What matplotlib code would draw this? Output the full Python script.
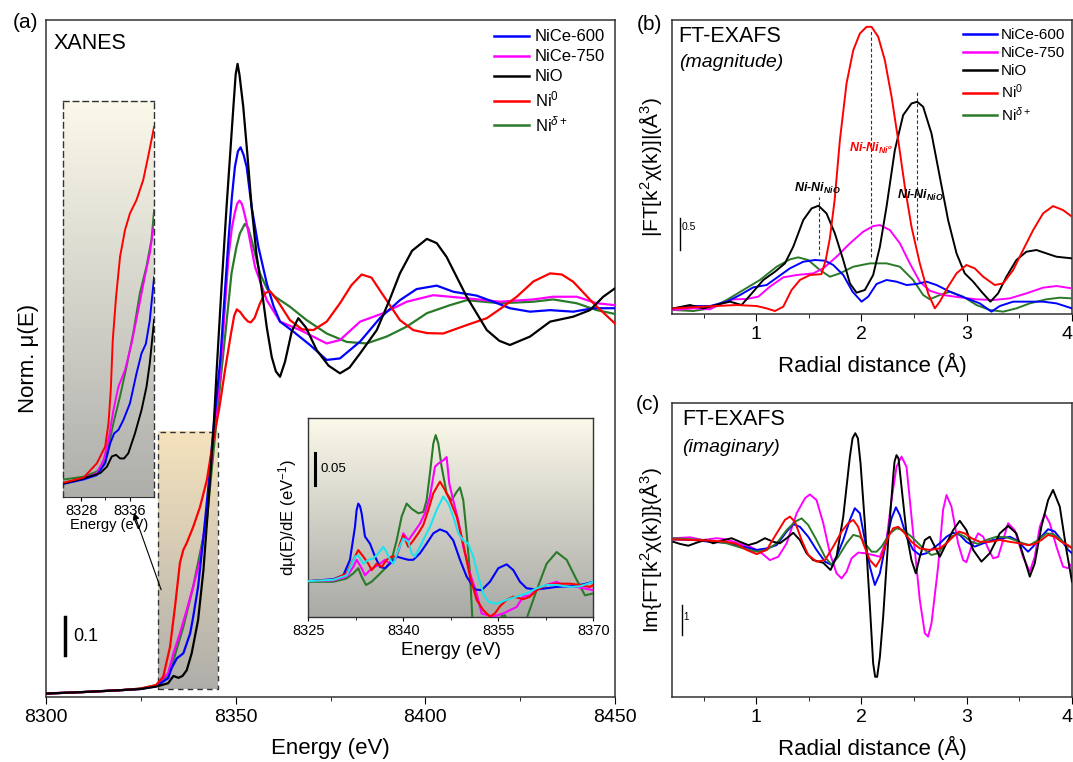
import numpy as np
import matplotlib
matplotlib.use('Agg')
import matplotlib.pyplot as plt
from matplotlib.colors import LinearSegmentedColormap
from matplotlib.lines import Line2D
from matplotlib.patches import Rectangle

plt.rcParams['font.family'] = ['Liberation Sans', 'DejaVu Sans']
plt.rcParams['mathtext.fontset'] = 'custom'
plt.rcParams['mathtext.rm'] = 'Liberation Sans'
plt.rcParams['mathtext.it'] = 'Liberation Sans:italic'
plt.rcParams['mathtext.bf'] = 'Liberation Sans:bold'
plt.rcParams['mathtext.bfit'] = 'Liberation Sans:bold:italic'

# ---------------- (a) XANES, normalised mu(E) ----------------
red_E = [8300, 8310, 8320, 8325, 8329, 8330.9, 8332.7, 8334.0, 8335.3, 8336.2, 8337.1, 8338.8, 8340.6, 8342.4,
         8344.1, 8345.7, 8347.2, 8348.7, 8349.6, 8350.3, 8351.2, 8352.3, 8353.3, 8354.0, 8355.0, 8356.3, 8357.7,
         8359.0, 8361.0, 8364.3, 8367.5, 8370.5, 8374.0, 8377.5, 8380.5, 8383.2, 8385.8, 8388.0, 8393.3, 8396.8,
         8400.5, 8404.7, 8410.9, 8416.2, 8420.0, 8424.1, 8428.5, 8432.9, 8436.0, 8439.0, 8444.3, 8450]
red_v = [0.004, 0.008, 0.013, 0.017, 0.026, 0.048, 0.126, 0.23, 0.345, 0.379, 0.397, 0.439, 0.491, 0.561,
         0.666, 0.75, 0.849, 0.94, 0.99, 1.007, 1.0, 0.985, 0.975, 0.973, 0.985, 1.02, 1.049,
         1.055, 1.03, 0.979, 0.955, 0.953, 0.975, 1.023, 1.07, 1.098, 1.09, 1.057, 0.979, 0.953,
         0.945, 0.944, 0.966, 0.984, 1.01, 1.040, 1.08, 1.101, 1.098, 1.079, 1.023, 0.97]

blk_E = [8300, 8310, 8320, 8325, 8329, 8332.2, 8333.6, 8334.9, 8336.0, 8337.1, 8338.4, 8340.1, 8341.5, 8342.8,
         8344.1, 8345.0, 8346.3, 8347.6, 8348.6, 8349.4, 8350.0, 8350.5, 8351.0, 8352.0, 8353.1, 8354.2, 8355.5,
         8356.9, 8358.2, 8359.5, 8360.6, 8361.7, 8363.0, 8364.8, 8366.5, 8368.5, 8371.4, 8374.5, 8377.5, 8380.0,
         8382.8, 8387.2, 8390.5, 8393.3, 8396.5, 8400.4, 8403.0, 8405.6, 8410.9, 8416.2, 8419.5, 8422.3, 8427.6,
         8432.9, 8439.0, 8443.4, 8446.9, 8450]
blk_v = [0.004, 0.008, 0.013, 0.016, 0.022, 0.031, 0.050, 0.045, 0.050, 0.065, 0.109, 0.196, 0.326, 0.5,
         0.683, 0.849, 1.07, 1.275, 1.42, 1.536, 1.62, 1.648, 1.62, 1.536, 1.41, 1.275, 1.15,
         1.057, 0.96, 0.883, 0.845, 0.831, 0.87, 0.95, 0.984, 0.96, 0.90, 0.86, 0.840, 0.855,
         0.892, 0.953, 1.03, 1.101, 1.16, 1.191, 1.18, 1.144, 1.040, 0.953, 0.925, 0.914, 0.936,
         0.975, 0.988, 1.005, 1.040, 1.062]

blu_E = [8300, 8310, 8320, 8325, 8329, 8332.2, 8333.1, 8334.5, 8336.2, 8338.0, 8338.8, 8340.1, 8341.5, 8342.8,
         8344.1, 8345.9, 8347.0, 8348.1, 8349.0, 8349.8, 8350.6, 8351.3, 8352.1, 8352.9, 8354.2, 8356.0, 8358.2,
         8360.0, 8361.7, 8365.2, 8369.6, 8374.0, 8377.5, 8382.8, 8388.0, 8393.3, 8397.7, 8403.0, 8407.4, 8413.5,
         8417.9, 8422.3, 8427.6, 8432.9, 8439.0, 8444.3, 8450]
blu_v = [0.004, 0.008, 0.013, 0.016, 0.023, 0.044, 0.07, 0.096, 0.109, 0.161, 0.204, 0.283, 0.413, 0.544,
         0.692, 0.87, 1.03, 1.188, 1.30, 1.379, 1.42, 1.430, 1.41, 1.379, 1.275, 1.170, 1.075,
         1.015, 0.975, 0.949, 0.914, 0.875, 0.879, 0.923, 0.984, 1.031, 1.060, 1.069, 1.053, 1.043,
         1.027, 1.010, 1.001, 1.005, 1.001, 1.010, 1.010]

mag_E = [8300, 8310, 8320, 8325, 8329, 8332.2, 8333.6, 8335.3, 8337.1, 8338.8, 8340.6, 8342.4, 8344.1, 8346.0,
         8348.1, 8349.0, 8349.8, 8350.4, 8351.0, 8351.6, 8352.0, 8352.9, 8355.1, 8358.2, 8361.7, 8367.0, 8374.0,
         8377.5, 8382.8, 8388.9, 8395.1, 8402.1, 8410.9, 8419.7, 8428.5, 8433.7, 8439.9, 8445.2, 8450]
mag_v = [0.004, 0.008, 0.013, 0.016, 0.025, 0.057, 0.109, 0.161, 0.222, 0.283, 0.352, 0.474, 0.666, 0.849,
         1.144, 1.22, 1.26, 1.283, 1.291, 1.283, 1.27, 1.232, 1.118, 1.031, 0.975, 0.953, 0.918,
         0.927, 0.975, 0.997, 1.027, 1.044, 1.036, 1.027, 1.033, 1.040, 1.040, 1.023, 1.018]

grn_E = [8300, 8310, 8320, 8325, 8329, 8332.2, 8333.6, 8336.2, 8338.8, 8340.6, 8342.4, 8344.1, 8346.3, 8348.9,
         8350.2, 8351.1, 8352.4, 8353.3, 8354.2, 8356.4, 8358.3, 8360.4, 8364.3, 8368.7, 8374.0, 8379.3, 8384.5,
         8389.8, 8395.1, 8400.4, 8406.5, 8410.9, 8419.7, 8428.5, 8433.7, 8439.9, 8445.2, 8450]
grn_v = [0.004, 0.008, 0.013, 0.017, 0.026, 0.048, 0.091, 0.178, 0.283, 0.370, 0.457, 0.631, 0.849, 1.101,
         1.17, 1.205, 1.230, 1.22, 1.188, 1.101, 1.06, 1.040, 1.014, 0.979, 0.944, 0.922, 0.918,
         0.936, 0.962, 0.997, 1.018, 1.031, 1.023, 1.027, 1.033, 1.023, 1.005, 0.995]

# ---------------- inset: pre-edge zoom ----------------
i1_red_E = [8325.1, 8328.39, 8330.58, 8331.95, 8332.50, 8332.88, 8333.21, 8333.76, 8334.42, 8335.24, 8336.06,
            8337.16, 8338.26, 8339.08, 8340.07]
i1_red_u = [0.037, 0.050, 0.086, 0.128, 0.187, 0.271, 0.397, 0.506, 0.607, 0.674, 0.716, 0.750, 0.800, 0.859, 0.934]
i1_blk_E = [8325.1, 8328.39, 8331.13, 8332.23, 8333.05, 8333.76, 8334.42, 8335.08, 8335.79, 8336.89, 8337.98,
            8338.81, 8339.35, 8340.07]
i1_blk_u = [0.035, 0.048, 0.061, 0.077, 0.103, 0.107, 0.098, 0.098, 0.111, 0.161, 0.220, 0.279, 0.338, 0.447]
i1_blu_E = [8325.1, 8328.39, 8330.58, 8331.95, 8332.78, 8333.43, 8334.15, 8334.97, 8336.06, 8337.16, 8337.98,
            8338.70, 8339.35, 8340.07]
i1_blu_u = [0.034, 0.045, 0.056, 0.086, 0.136, 0.161, 0.170, 0.195, 0.237, 0.313, 0.363, 0.387, 0.446, 0.555]
i1_mag_E = [8325.1, 8328.39, 8330.58, 8331.68, 8332.50, 8333.32, 8334.15, 8335.24, 8336.34, 8337.44, 8338.53,
            8339.35, 8340.07]
i1_mag_u = [0.035, 0.048, 0.061, 0.094, 0.145, 0.220, 0.279, 0.321, 0.388, 0.472, 0.556, 0.615, 0.691]
i1_grn_E = [8325.1, 8328.39, 8330.58, 8331.68, 8332.50, 8333.32, 8334.42, 8335.52, 8336.61, 8337.71, 8338.81,
            8339.63, 8340.07]
i1_grn_u = [0.045, 0.052, 0.065, 0.086, 0.128, 0.187, 0.255, 0.331, 0.415, 0.515, 0.583, 0.650, 0.724]

# ---------------- inset: first derivative ----------------
d_blu_E = [8325.0, 8328.95, 8330.53, 8331.58, 8332.37, 8332.63, 8332.89, 8333.16, 8333.42, 8333.95, 8334.74,
           8335.53, 8336.32, 8337.11, 8337.89, 8338.95, 8340.0, 8340.79, 8341.58, 8342.63, 8343.68, 8344.74,
           8345.79, 8346.84, 8347.89, 8348.95, 8350.0, 8351.32, 8352.37, 8353.68, 8355.0, 8356.32, 8357.37,
           8358.42, 8359.47, 8361.05, 8362.63, 8364.21, 8366.32, 8368.42, 8370.0]
d_blu = [0, 0.003, 0.009, 0.033, 0.084, 0.110, 0.120, 0.116, 0.105, 0.069, 0.058,
         0.038, 0.022, 0.020, 0.027, 0.038, 0.035, 0.033, 0.033, 0.043, 0.058, 0.074,
         0.080, 0.076, 0.063, 0.033, 0.007, -0.013, -0.014, -0.001, 0.020, 0.026, 0.017,
         -0.001, -0.011, -0.013, -0.011, -0.009, -0.008, -0.005, -0.001]
d_red_E = [8325, 8328.95, 8331.05, 8332.11, 8332.89, 8333.68, 8334.47, 8335.0, 8335.79, 8336.58, 8337.37,
           8338.16, 8338.95, 8339.47, 8340.0, 8340.79, 8341.58, 8342.37, 8343.16, 8343.95, 8344.74, 8345.79,
           8346.58, 8347.37, 8348.42, 8349.47, 8350.53, 8351.58, 8352.63, 8353.68, 8354.47, 8355.26, 8356.32,
           8357.37, 8358.95, 8360.0, 8361.05, 8362.63, 8364.21, 8366.32, 8367.89, 8369.47, 8370.0]
d_red = [0, 0.002, 0.012, 0.033, 0.048, 0.038, 0.027, 0.017, 0.027, 0.022, 0.033,
         0.038, 0.038, 0.058, 0.071, 0.053, 0.063, 0.074, 0.087, 0.110, 0.136, 0.154,
         0.141, 0.125, 0.100, 0.058, 0.007, -0.029, -0.045, -0.055, -0.050, -0.039, -0.029,
         -0.024, -0.028, -0.024, -0.014, -0.006, -0.004, -0.004, -0.006, -0.009, -0.006]
d_mag_E = [8325, 8328.95, 8331.05, 8332.11, 8332.63, 8333.42, 8333.95, 8334.74, 8335.53, 8336.32, 8337.11,
           8337.89, 8338.68, 8339.47, 8340.0, 8340.79, 8341.58, 8342.63, 8343.42, 8344.21, 8345.0, 8345.53,
           8346.32, 8346.84, 8347.26, 8347.89, 8348.68, 8349.47, 8350.53, 8351.58, 8352.37, 8354.21, 8355.79,
           8357.89, 8358.95, 8360.0, 8361.05, 8362.63, 8364.21, 8365.79, 8367.37, 8368.42, 8370.0]
d_mag = [0, 0.001, 0.007, 0.022, 0.033, 0.020, 0.009, 0.017, 0.022, 0.027, 0.033,
         0.027, 0.033, 0.053, 0.074, 0.063, 0.074, 0.089, 0.105, 0.131, 0.177, 0.182,
         0.187, 0.192, 0.151, 0.125, 0.094, 0.053, 0.012, -0.019, -0.050, -0.055, -0.050,
         -0.040, -0.024, -0.022, -0.013, -0.006, -0.001, -0.009, -0.009, -0.011, -0.014]
d_grn_E = [8325, 8328.95, 8331.05, 8332.11, 8332.89, 8333.42, 8334.11, 8335.0, 8336.05, 8337.37, 8338.16,
           8338.95, 8339.74, 8340.53, 8341.32, 8342.37, 8343.16, 8343.68, 8344.21, 8344.74, 8345.11, 8345.53,
           8346.05, 8346.84, 8347.63, 8348.42, 8348.95, 8349.47, 8350.0, 8350.53, 8350.89, 8351.58, 8353.16,
           8354.74, 8355.53, 8356.05, 8356.84, 8358.42, 8359.58, 8361.05, 8362.63, 8364.21, 8365.79, 8367.37,
           8368.68, 8370.0]
d_grn = [-0.001, -0.001, 0.004, 0.012, 0.020, 0.007, -0.006, -0.001, 0.009, 0.022, 0.033,
         0.063, 0.100, 0.120, 0.112, 0.105, 0.107, 0.125, 0.167, 0.213, 0.226, 0.213,
         0.177, 0.136, 0.125, 0.138, 0.145, 0.125, 0.074, 0.012, -0.055, -0.091, -0.112,
         -0.081, -0.054, -0.053, -0.071, -0.081, -0.055, -0.014, 0.027, 0.045, 0.033, 0.002,
         -0.022, -0.019]
d_cyn_E = [8325, 8328.95, 8331.05, 8332.37, 8332.89, 8333.68, 8334.47, 8335.26, 8336.05, 8336.84, 8337.37,
           8337.89, 8338.42, 8339.21, 8340.0, 8340.79, 8341.32, 8341.84, 8342.63, 8343.42, 8344.21, 8345.26,
           8346.32, 8347.11, 8347.89, 8348.68, 8349.47, 8350.26, 8351.05, 8351.84, 8352.63, 8353.42, 8354.74,
           8356.32, 8357.89, 8359.47, 8361.05, 8362.63, 8364.21, 8366.32, 8367.89, 8370.0]
d_cyn = [0, 0.002, 0.009, 0.038, 0.040, 0.027, 0.033, 0.035, 0.043, 0.053, 0.045,
         0.033, 0.027, 0.048, 0.066, 0.061, 0.043, 0.038, 0.053, 0.069, 0.084, 0.110,
         0.131, 0.120, 0.100, 0.074, 0.063, 0.058, 0.038, 0.007, -0.019, -0.032, -0.035,
         -0.029, -0.024, -0.019, -0.011, -0.006, -0.006, -0.009, -0.008, -0.001]

# ---------------- (b) FT-EXAFS magnitude ----------------
b_red_R = [0.213, 0.497, 0.814, 1.004, 1.099, 1.178, 1.257, 1.336, 1.415, 1.510, 1.62, 1.66, 1.70, 1.745, 1.795,
           1.858, 1.922, 1.985, 2.048, 2.096, 2.159, 2.222, 2.286, 2.349, 2.412, 2.475, 2.554, 2.633, 2.697, 2.744,
           2.823, 2.903, 2.997, 3.076, 3.156, 3.266, 3.346, 3.441, 3.535, 3.631, 3.725, 3.820, 3.915, 4.0]
b_red = [0.089, 0.116, 0.142, 0.126, 0.089, 0.047, 0.116, 0.379, 0.537, 0.616, 0.63, 0.85, 1.2, 1.8, 2.747,
         3.642, 4.168, 4.432, 4.537, 4.537, 4.379, 4.011, 3.432, 2.747, 2.011, 1.379, 0.8, 0.326, 0.089, 0.195,
         0.432, 0.642, 0.774, 0.721, 0.589, 0.458, 0.484, 0.695, 1.011, 1.326, 1.589, 1.705, 1.642, 1.537]
b_blk_R = [0.213, 0.371, 0.497, 0.656, 0.751, 0.861, 0.972, 1.067, 1.178, 1.273, 1.352, 1.447, 1.526, 1.592,
           1.668, 1.747, 1.827, 1.890, 1.953, 2.032, 2.111, 2.175, 2.238, 2.317, 2.396, 2.475, 2.529, 2.586,
           2.665, 2.744, 2.823, 2.903, 2.981, 3.061, 3.140, 3.225, 3.298, 3.377, 3.472, 3.567, 3.662, 3.756,
           3.852, 4.0]
b_blk = [0.089, 0.142, 0.089, 0.158, 0.195, 0.142, 0.353, 0.537, 0.668, 0.8, 1.063, 1.484, 1.668, 1.711,
         1.589, 1.274, 0.853, 0.484, 0.337, 0.379, 0.616, 1.063, 1.695, 2.589, 3.142, 3.326, 3.353, 3.274,
         2.853, 2.168, 1.484, 0.958, 0.642, 0.511, 0.353, 0.195, 0.326, 0.589, 0.853, 0.984, 1.011, 0.958,
         0.905, 0.879]
b_blu_R = [0.213, 0.403, 0.561, 0.719, 0.846, 0.972, 1.099, 1.209, 1.320, 1.447, 1.558, 1.653, 1.732, 1.827,
           1.915, 2.001, 2.064, 2.143, 2.238, 2.333, 2.428, 2.523, 2.618, 2.713, 2.839, 2.997, 3.124, 3.235,
           3.314, 3.441, 3.567, 3.725, 3.852, 4.0]
b_blu = [0.089, 0.126, 0.126, 0.195, 0.3, 0.421, 0.458, 0.589, 0.721, 0.826, 0.853, 0.842, 0.774, 0.616,
         0.353, 0.195, 0.274, 0.474, 0.537, 0.511, 0.458, 0.474, 0.511, 0.458, 0.353, 0.247, 0.168, 0.037,
         0.126, 0.195, 0.195, 0.195, 0.168, 0.089]
b_mag_R = [0.213, 0.403, 0.561, 0.687, 0.782, 0.909, 1.020, 1.130, 1.257, 1.384, 1.542, 1.637, 1.763, 1.890,
           2.016, 2.111, 2.175, 2.270, 2.365, 2.459, 2.554, 2.649, 2.776, 2.934, 3.092, 3.251, 3.409, 3.567,
           3.725, 3.852, 4.0]
b_mag = [0.063, 0.089, 0.074, 0.179, 0.232, 0.237, 0.274, 0.432, 0.579, 0.616, 0.642, 0.721, 0.905, 1.116,
         1.3, 1.389, 1.405, 1.326, 1.116, 0.8, 0.511, 0.368, 0.3, 0.263, 0.232, 0.221, 0.247, 0.326,
         0.416, 0.442, 0.405]
b_grn_R = [0.213, 0.403, 0.561, 0.719, 0.877, 1.035, 1.194, 1.320, 1.399, 1.494, 1.605, 1.700, 1.795, 1.922,
           2.080, 2.238, 2.365, 2.491, 2.586, 2.649, 2.744, 2.839, 2.966, 3.092, 3.219, 3.346, 3.472, 3.599,
           3.757, 3.884, 4.0]
b_grn = [0.063, 0.047, 0.089, 0.221, 0.379, 0.537, 0.747, 0.863, 0.895, 0.853, 0.695, 0.589, 0.642, 0.747,
         0.8, 0.8, 0.747, 0.537, 0.3, 0.232, 0.3, 0.353, 0.274, 0.142, 0.063, 0.037, 0.089, 0.168,
         0.232, 0.258, 0.247]

# ---------------- (c) FT-EXAFS imaginary part ----------------
c_blk_R = [0.213, 0.276, 0.355, 0.434, 0.513, 0.592, 0.672, 0.766, 0.846, 0.925, 1.004, 1.083, 1.162, 1.225,
           1.289, 1.352, 1.415, 1.478, 1.542, 1.637, 1.706, 1.763, 1.827, 1.890, 1.915, 1.941, 1.966, 1.991,
           2.032, 2.080, 2.111, 2.130, 2.149, 2.175, 2.206, 2.254, 2.301, 2.314, 2.333, 2.352, 2.380, 2.428,
           2.475, 2.516, 2.554, 2.602, 2.649, 2.697, 2.744, 2.808, 2.871, 2.934, 2.997, 3.061, 3.140, 3.219,
           3.314, 3.393, 3.472, 3.551, 3.599, 3.646, 3.709, 3.773, 3.820, 3.884, 3.947, 4.0]
c_blk = [-0.06, -0.13, -0.19, -0.09, 0.0, -0.11, -0.02, 0.06, -0.06, -0.17, -0.09, 0.06, -0.06, -0.11,
         0.06, 0.24, 0.0, -0.44, -0.67, -0.76, -1.0, -0.56, 0.78, 2.78, 3.39, 3.56, 3.39, 2.56,
         0.56, -2.22, -4.11, -4.56, -4.56, -3.89, -2.56, 0.0, 2.11, 2.61, 2.83, 2.72, 1.78, 0.22,
         -0.67, -1.11, -0.56, 0.0, 0.11, -0.22, -0.56, -0.11, 0.33, 0.64, 0.33, -0.33, -0.72, -0.44,
         0.22, 0.47, 0.22, -0.67, -1.22, -0.78, 0.44, 1.33, 1.67, 1.11, -0.33, -1.39]
c_mag_R = [0.213, 0.371, 0.497, 0.624, 0.719, 0.846, 0.941, 1.035, 1.130, 1.209, 1.289, 1.384, 1.463, 1.510,
           1.573, 1.637, 1.700, 1.763, 1.811, 1.858, 1.906, 1.969, 2.032, 2.111, 2.175, 2.238, 2.285, 2.333,
           2.380, 2.428, 2.491, 2.554, 2.602, 2.633, 2.665, 2.728, 2.775, 2.808, 2.855, 2.918, 2.966, 2.997,
           3.045, 3.108, 3.156, 3.203, 3.251, 3.298, 3.346, 3.393, 3.456, 3.535, 3.599, 3.646, 3.694, 3.741,
           3.789, 3.852, 3.915, 3.963, 4.0]
c_mag = [0.06, 0.09, 0.0, 0.06, 0.02, -0.13, -0.22, -0.39, -0.67, -0.56, -0.11, 0.89, 1.39, 1.52,
         1.33, 0.56, -0.44, -1.11, -1.28, -1.06, -0.61, -0.42, -0.44, -0.5, -0.56, 0.0, 1.33, 2.44,
         2.78, 2.44, 0.22, -2.0, -3.11, -3.22, -2.78, -0.89, 1.0, 1.5, 1.11, -0.11, -0.67, -0.74,
         -0.22, 0.22, 0.11, -0.28, -0.61, -0.56, 0.0, 0.56, 0.33, -0.56, -1.06, -0.56, 0.44, 0.87,
         0.56, -0.22, -0.89, -0.94, -0.78]
c_blu_R = [0.213, 0.403, 0.561, 0.719, 0.877, 1.004, 1.099, 1.194, 1.289, 1.352, 1.415, 1.494, 1.573, 1.653,
           1.716, 1.763, 1.827, 1.890, 1.937, 1.985, 2.032, 2.080, 2.127, 2.175, 2.238, 2.285, 2.327, 2.365,
           2.428, 2.491, 2.554, 2.618, 2.680, 2.744, 2.808, 2.871, 2.934, 2.997, 3.077, 3.156, 3.251, 3.346,
           3.409, 3.472, 3.535, 3.583, 3.630, 3.694, 3.773, 3.836, 3.899, 3.963, 4.0]
c_blu = [0.02, 0.0, -0.06, -0.09, -0.22, -0.33, -0.28, -0.17, 0.28, 0.53, 0.44, 0.11, -0.33, -0.72,
         -0.83, -0.56, 0.0, 0.67, 1.06, 0.89, 0.0, -0.89, -1.5, -1.11, 0.0, 0.72, 1.09, 0.83,
         0.11, -0.33, -0.5, -0.44, -0.28, -0.11, 0.11, 0.24, 0.17, -0.06, -0.22, -0.11, 0.0, 0.06,
         0.11, 0.0, -0.22, -0.39, -0.22, 0.06, 0.36, 0.28, 0.0, -0.33, -0.44]
c_grn_R = [0.213, 0.403, 0.561, 0.719, 0.877, 1.004, 1.099, 1.194, 1.289, 1.368, 1.431, 1.494, 1.573, 1.653,
           1.716, 1.779, 1.858, 1.922, 1.985, 2.032, 2.096, 2.143, 2.191, 2.270, 2.333, 2.396, 2.475, 2.539,
           2.602, 2.665, 2.728, 2.791, 2.855, 2.918, 2.982, 3.045, 3.108, 3.187, 3.282, 3.377, 3.456, 3.535,
           3.599, 3.678, 3.757, 3.820, 3.899, 3.963, 4.0]
c_grn = [0.06, 0.02, -0.02, -0.11, -0.28, -0.39, -0.33, -0.11, 0.33, 0.61, 0.72, 0.5, 0.0, -0.56,
         -0.83, -0.56, -0.11, 0.17, 0.11, -0.11, -0.39, -0.39, -0.22, 0.22, 0.39, 0.33, 0.11, -0.11,
         -0.33, -0.5, -0.44, -0.17, 0.11, 0.22, 0.11, -0.06, -0.13, 0.0, 0.11, 0.09, 0.0, -0.11,
         -0.17, 0.0, 0.22, 0.2, 0.0, -0.22, -0.22]
c_red_R = [0.213, 0.403, 0.561, 0.719, 0.814, 0.909, 1.004, 1.099, 1.194, 1.273, 1.320, 1.368, 1.431, 1.494,
           1.573, 1.653, 1.732, 1.811, 1.874, 1.922, 1.969, 2.016, 2.080, 2.137, 2.191, 2.254, 2.301, 2.349,
           2.412, 2.475, 2.554, 2.649, 2.744, 2.808, 2.871, 2.925, 2.982, 3.045, 3.124, 3.219, 3.314, 3.409,
           3.504, 3.583, 3.646, 3.709, 3.773, 3.836, 3.899, 3.963, 4.0]
c_red = [0.02, 0.0, -0.02, -0.06, -0.13, -0.33, -0.47, -0.33, 0.22, 0.67, 0.78, 0.61, 0.0, -0.5,
         -0.72, -0.67, -0.22, 0.28, 0.56, 0.67, 0.44, -0.11, -0.67, -0.89, -0.56, 0.11, 0.39, 0.44,
         0.22, -0.06, -0.28, -0.33, -0.28, -0.11, 0.11, 0.28, 0.22, 0.06, -0.06, -0.06, 0.0, -0.06,
         -0.11, -0.17, -0.13, 0.0, 0.17, 0.11, -0.06, -0.17, -0.28]

labels = ['NiCe-600', 'NiCe-750', 'NiO', 'Ni$^0$', r'Ni$^{\delta+}$']
C600, C750, CNIO, CNI0, CDEL, CCYN = '#0000ff', '#ff00ff', '#000000', '#ff0000', '#2a7a2a', '#1ee3ee'
colors = [C600, C750, CNIO, CNI0, CDEL]

W, H = 1073, 762
fig = plt.figure(figsize=(W / 100, H / 100), dpi=100)


def box(x0, y0, x1, y1):
    return [x0 / W, 1 - y1 / H, (x1 - x0) / W, (y1 - y0) / H]


def gradient(ax, extent, top, bottom, z):
    cmap = LinearSegmentedColormap.from_list('g', [bottom, top])
    g = np.linspace(0, 1, 256).reshape(-1, 1)
    ax.imshow(g, cmap=cmap, origin='lower', aspect='auto', extent=extent, zorder=z)


def frame(ax, lw=1.1):
    for s in ax.spines.values():
        s.set_linewidth(lw)
        s.set_color('#333333')


ax_a = fig.add_axes(box(46, 20, 615, 697))
ax_b = fig.add_axes(box(672, 20, 1072, 314))
ax_c = fig.add_axes(box(672, 403, 1072, 697))
ax_i1 = fig.add_axes(box(63.3, 100.7, 154.3, 497.3))
ax_i2 = fig.add_axes(box(308.3, 418.3, 593.3, 617.3))

# ---- panel (a)
gradient(ax_a, [8329.6, 8345.4, 0.015, 0.687], '#f6e3bd', '#afaeaa', 0.5)
ax_a.add_patch(Rectangle((8329.6, 0.015), 15.8, 0.672, fill=False, ls=(0, (4, 3)), lw=1.0,
                         ec='#333333', zorder=0.6))
curves_a = [(grn_E, grn_v, CDEL), (mag_E, mag_v, C750), (blu_E, blu_v, C600), (red_E, red_v, CNI0),
            (blk_E, blk_v, CNIO)]
for e, v, c in curves_a:
    ax_a.plot(e, v, color=c, lw=1.6, zorder=3)
ax_a.set_xlim(8300, 8450)
ax_a.set_ylim(-0.005, 1.7625)
ax_a.set_yticks([])
ax_a.set_xticks([8300, 8350, 8400, 8450])
ax_a.set_xticks([8325, 8375, 8425], minor=True)
ax_a.tick_params(axis='x', which='major', labelsize=14, length=5, direction='out')
ax_a.tick_params(axis='x', which='minor', length=3, direction='out')
ax_a.set_xlabel('Energy (eV)', fontsize=16, labelpad=9)
ax_a.set_ylabel('Norm. μ(E)', fontsize=16, labelpad=5)
frame(ax_a)
ax_a.plot([8305, 8305], [0.104, 0.204], color='black', lw=2.5)
ax_a.text(8307.3, 0.154, '0.1', fontsize=13, va='center')
ax_a.text(0.0125, 0.965, 'XANES', transform=ax_a.transAxes, fontsize=15.5, va='center')
ax_a.annotate('', xy=(8322.9, 0.483), xytext=(8330.6, 0.268),
              arrowprops=dict(arrowstyle='-|>', color='black', lw=0.8, mutation_scale=10))
handles = [Line2D([], [], color=c, lw=1.8) for c in colors]
ax_a.legend(handles, labels, loc='upper left', bbox_to_anchor=(0.787, 0.986), frameon=False, fontsize=12,
            handlelength=2.1, handletextpad=0.35, labelspacing=0.3, borderpad=0, borderaxespad=0)

# ---- inset: pre-edge
ax_i1.set_xlim(8325, 8340.1)
ax_i1.set_ylim(0, 1)
gradient(ax_i1, [8325, 8340.1, 0, 1], '#fbf9ea', '#aeaeab', 0)
for e, u, c in [(i1_grn_E, i1_grn_u, CDEL), (i1_mag_E, i1_mag_u, C750), (i1_blu_E, i1_blu_u, C600),
                (i1_blk_E, i1_blk_u, CNIO), (i1_red_E, i1_red_u, CNI0)]:
    ax_i1.plot(e, u, color=c, lw=1.4, zorder=3)
ax_i1.set_yticks([])
ax_i1.set_xticks([8328, 8336])
ax_i1.set_xticks([8332], minor=True)
ax_i1.tick_params(axis='x', which='major', labelsize=10.5, length=3, pad=1.5)
ax_i1.tick_params(axis='x', which='minor', length=2)
ax_i1.set_xlabel('Energy (eV)', fontsize=10.5, labelpad=0)
for k in ['top', 'left', 'right']:
    ax_i1.spines[k].set_linestyle((0, (4, 3)))
    ax_i1.spines[k].set_linewidth(1.0)
    ax_i1.spines[k].set_color('#333333')
ax_i1.spines['bottom'].set_color('#333333')

# ---- inset: derivative
ax_i2.set_xlim(8325, 8370)
ax_i2.set_ylim(-0.056, 0.252)
gradient(ax_i2, [8325, 8370, -0.056, 0.252], '#fbf9e9', '#a9a9a6', 0)
for e, d, c in [(d_grn_E, d_grn, CDEL), (d_mag_E, d_mag, C750), (d_blu_E, d_blu, C600),
                (d_red_E, d_red, CNI0), (d_cyn_E, d_cyn, CCYN)]:
    ax_i2.plot(e, d, color=c, lw=1.5, zorder=3)
ax_i2.set_yticks([])
ax_i2.set_xticks([8325, 8340, 8355, 8370])
ax_i2.set_xticks([8332.5, 8347.5, 8362.5], minor=True)
ax_i2.tick_params(axis='x', which='major', labelsize=10.5, length=3, pad=2)
ax_i2.tick_params(axis='x', which='minor', length=2)
ax_i2.set_xlabel('Energy (eV)', fontsize=13.5, labelpad=3)
ax_i2.set_ylabel('dμ(E)/dE (eV$^{-1}$)', fontsize=12, labelpad=7)
frame(ax_i2, 1.0)
ax_i2.plot([8326.06, 8326.06], [0.149, 0.199], color='black', lw=2.2, zorder=4)
ax_i2.text(8326.9, 0.174, '0.05', fontsize=9.5, va='center', zorder=4)

# ---- panel (b)
for r, m, c in [(b_grn_R, b_grn, CDEL), (b_mag_R, b_mag, C750), (b_blu_R, b_blu, C600),
                (b_blk_R, b_blk, CNIO), (b_red_R, b_red, CNI0)]:
    ax_b.plot(r, m, color=c, lw=1.4, zorder=3)
ax_b.set_xlim(0.2, 4.0)
ax_b.set_ylim(0, 4.645)
for x0, y0, y1 in [(1.592, 0.93, 1.85), (2.089, 0.9, 4.51), (2.526, 1.17, 3.51)]:
    ax_b.plot([x0, x0], [y0, y1], color='#333333', lw=0.8, ls=(0, (3, 2)), zorder=2)
ann = dict(fontsize=9, fontweight='bold', style='italic', ha='center', va='center', zorder=5)
ax_b.text(1.582, 1.99, r'Ni-Ni$_{\mathbfit{NiO}}$', color='black', **ann)
ax_b.text(2.09, 2.62, r'Ni-Ni$_{\mathbfit{Ni^o}}$', color=CNI0, **ann)
ax_b.text(2.555, 1.88, r'Ni-Ni$_{\mathbfit{NiO}}$', color='black', **ann)
ax_b.plot([0.276, 0.276], [1.01, 1.51], color='black', lw=1.0)
ax_b.text(0.293, 1.37, '0.5', fontsize=7.5, va='center')
ax_b.text(0.015, 0.945, 'FT-EXAFS', transform=ax_b.transAxes, fontsize=15.5, va='center')
ax_b.text(0.0175, 0.855, '(magnitude)', transform=ax_b.transAxes, fontsize=14, style='italic', va='center')
ax_b.legend(handles, labels, loc='upper left', bbox_to_anchor=(0.7275, 0.972), frameon=False, fontsize=11,
            handlelength=2.2, handletextpad=0.3, labelspacing=0.27, borderpad=0, borderaxespad=0)
ax_b.set_ylabel('|FT[k$^2$χ(k)]|(Å$^3$)', fontsize=15, labelpad=6)

# ---- panel (c)
for r, v, c in [(c_mag_R, c_mag, C750), (c_blu_R, c_blu, C600), (c_grn_R, c_grn, CDEL),
                (c_blk_R, c_blk, CNIO), (c_red_R, c_red, CNI0)]:
    ax_c.plot(r, v, color=c, lw=1.4, zorder=3)
ax_c.set_xlim(0.2, 4.0)
ax_c.set_ylim(-5.233, 4.567)
ax_c.plot([0.292, 0.292], [-3.17, -2.17], color='black', lw=1.0)
ax_c.text(0.31, -2.56, '1', fontsize=7, va='center')
ax_c.text(0.0245, 0.945, 'FT-EXAFS', transform=ax_c.transAxes, fontsize=15.5, va='center')
ax_c.text(0.0245, 0.85, '(imaginary)', transform=ax_c.transAxes, fontsize=14, style='italic', va='center')
ax_c.set_ylabel('Im{FT[k$^2$χ(k)]}(Å$^3$)', fontsize=15, labelpad=6)

for ax in (ax_b, ax_c):
    ax.set_yticks([])
    ax.set_xticks([1, 2, 3, 4])
    ax.set_xticks([0.5, 1.5, 2.5, 3.5], minor=True)
    ax.tick_params(axis='x', which='major', labelsize=14, length=5, direction='out')
    ax.tick_params(axis='x', which='minor', length=3, direction='out')
    ax.set_xlabel('Radial distance (Å)', fontsize=16, labelpad=7)
    ax.xaxis.get_major_ticks()[-1].label1.set_horizontalalignment('right')
    frame(ax)

fig.text(25 / W, 1 - 23 / H, '(a)', fontsize=15, ha='center', va='center')
fig.text(649 / W, 1 - 24 / H, '(b)', fontsize=15, ha='center', va='center')
fig.text(648 / W, 1 - 404 / H, '(c)', fontsize=15, ha='center', va='center')

fig.savefig('out.png', dpi=100)
